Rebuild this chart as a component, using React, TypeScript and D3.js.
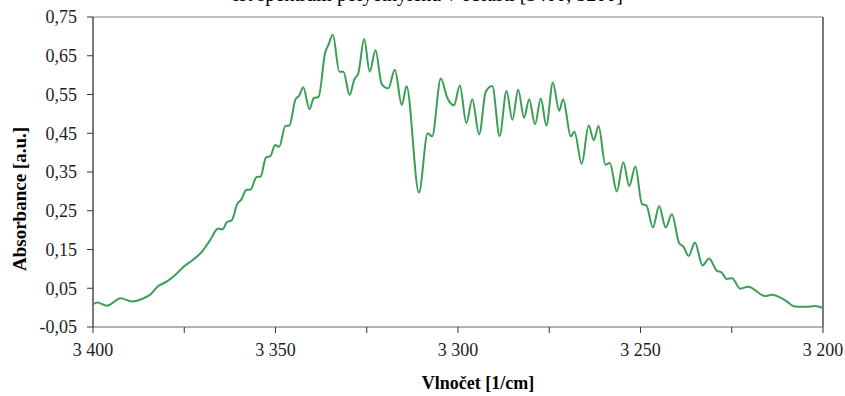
import React, { useEffect } from "react";
import * as d3 from "d3";

const wavenumbers = [
  3399.9, 3398.8, 3396.2, 3392.4, 3389.4, 3386.2, 3384.4, 3382.1, 3379.8, 3377.5,
  3375.1, 3372.5, 3370.2, 3368.0, 3365.7, 3364.5, 3363.3, 3362.0, 3360.5, 3359.3,
  3358.0, 3356.8, 3355.2, 3354.1, 3352.6, 3351.4, 3350.1, 3349.0, 3347.3, 3346.2,
  3344.5, 3343.5, 3342.4, 3340.7, 3339.5, 3338.2, 3336.4, 3335.5, 3334.3, 3332.5,
  3331.4, 3329.7, 3328.4, 3327.3, 3325.7, 3324.2, 3322.6, 3320.9, 3319.1, 3317.3,
  3315.4, 3314.1, 3310.7, 3308.3, 3307.1, 3304.7, 3303.0, 3301.1, 3299.5, 3297.7,
  3296.1, 3294.2, 3292.4, 3290.6, 3288.6, 3286.7, 3285.1, 3283.5, 3281.9, 3280.5,
  3278.9, 3277.3, 3275.8, 3274.0, 3272.3, 3271.2, 3269.1, 3268.1, 3266.1, 3264.2,
  3262.8, 3261.5, 3259.6, 3258.4, 3256.5, 3254.7, 3253.1, 3251.4, 3249.6, 3248.4,
  3246.6, 3244.9, 3243.1, 3241.4, 3239.4, 3238.3, 3236.8, 3235.1, 3233.0, 3231.2,
  3229.1, 3227.8, 3226.4, 3224.9, 3222.7, 3220.5, 3215.9, 3214.1, 3210.4, 3207.7,
  3204.5, 3202.2, 3200.0,
];

const absorbance = [
  0.009, 0.013, 0.005, 0.024, 0.016, 0.024, 0.033, 0.056, 0.067, 0.084,
  0.106, 0.124, 0.144, 0.173, 0.204, 0.202, 0.221, 0.225, 0.267, 0.280,
  0.304, 0.305, 0.337, 0.338, 0.388, 0.391, 0.420, 0.415, 0.469, 0.470,
  0.538, 0.547, 0.569, 0.512, 0.541, 0.544, 0.658, 0.678, 0.704, 0.609,
  0.609, 0.549, 0.589, 0.605, 0.693, 0.609, 0.664, 0.577, 0.566, 0.614,
  0.523, 0.571, 0.297, 0.450, 0.442, 0.591, 0.543, 0.522, 0.573, 0.476,
  0.538, 0.447, 0.557, 0.572, 0.443, 0.559, 0.485, 0.562, 0.490, 0.538,
  0.473, 0.540, 0.470, 0.581, 0.508, 0.538, 0.442, 0.454, 0.371, 0.470,
  0.432, 0.469, 0.369, 0.373, 0.300, 0.375, 0.314, 0.364, 0.267, 0.264,
  0.207, 0.262, 0.207, 0.241, 0.166, 0.158, 0.133, 0.168, 0.109, 0.127,
  0.095, 0.091, 0.074, 0.076, 0.049, 0.054, 0.030, 0.033, 0.019, 0.003,
  0.002, 0.004, -0.001,
];

const yTicks = [-0.05, 0.05, 0.15, 0.25, 0.35, 0.45, 0.55, 0.65, 0.75];
const xTicks = [3400, 3375, 3350, 3325, 3300, 3275, 3250, 3225, 3200];
const xLabelTicks = [3400, 3350, 3300, 3250, 3200];

const titleText = "IR spektrum polyethylenu v oblasti [3400, 3200]";
const xTitle = "Vlnočet [1/cm]";
const yTitle = "Absorbance [a.u.]";

const W = 845;
const H = 396;
const M = { left: 93, right: 22, top: 17, bottom: 69 };

export default function App() {
  useEffect(() => {
    document.body.style.margin = "0";
  }, []);

  const x = d3.scaleLinear().domain([3400, 3200]).range([M.left, W - M.right]);
  const y = d3.scaleLinear().domain([-0.05, 0.75]).range([H - M.bottom, M.top]);

  const data = wavenumbers.map((w, i) => [w, absorbance[i]] as [number, number]);
  const line = d3
    .line<[number, number]>()
    .x((d) => x(d[0]))
    .y((d) => y(d[1]))
    .curve(d3.curveMonotoneX);

  const fmtY = (v: number) => v.toFixed(2).replace(".", ",");
  const fmtX = (v: number) => {
    const s = String(v);
    return s.slice(0, s.length - 3) + " " + s.slice(s.length - 3);
  };

  const font = "'Liberation Serif', 'Times New Roman', serif";
  const x0 = x(3400);
  const x1 = x(3200);
  const yTop = y(0.75);
  const yBot = y(-0.05);

  return (
    <svg width={W} height={H} style={{ display: "block", background: "#fff" }} fontFamily={font}>
      <text x={623} y={1} fontSize={20} textAnchor="end" fill="#000">
        {titleText}
      </text>
      {/* frame */}
      <line x1={x0} x2={x1} y1={yTop} y2={yTop} stroke="#808080" strokeWidth={1.2} />
      <line x1={x1} x2={x1} y1={yTop} y2={yBot} stroke="#222" strokeWidth={1.2} />
      {/* y axis */}
      <line x1={x0} x2={x0} y1={yTop} y2={yBot} stroke="#222" strokeWidth={1.2} />
      {yTicks.map((t) => (
        <g key={"y" + t}>
          <line x1={x0 - 6} x2={x0} y1={y(t)} y2={y(t)} stroke="#333" strokeWidth={1} />
          <text x={77} y={y(t)} dy="0.35em" fontSize={18} textAnchor="end" fill="#222">
            {fmtY(t)}
          </text>
        </g>
      ))}
      {/* x axis */}
      <line x1={x0} x2={x1} y1={yBot} y2={yBot} stroke="#666" strokeWidth={1.2} />
      {xTicks.map((t) => (
        <line key={"xt" + t} x1={x(t)} x2={x(t)} y1={yBot} y2={yBot + 6} stroke="#333" strokeWidth={1} />
      ))}
      {xLabelTicks.map((t) => (
        <text key={"xl" + t} x={x(t)} y={356} fontSize={18} textAnchor="middle" fill="#222">
          {fmtX(t)}
        </text>
      ))}
      <path d={line(data) || ""} fill="none" stroke="#3a9f56" strokeWidth={2} strokeLinejoin="round" />
      <text x={478} y={389} fontSize={18} fontWeight="bold" textAnchor="middle" fill="#000">
        {xTitle}
      </text>
      <text
        transform={`translate(26, ${(yTop + yBot) / 2 + 27}) rotate(-90)`}
        fontSize={19}
        fontWeight="bold"
        textAnchor="middle"
        fill="#000"
      >
        {yTitle}
      </text>
    </svg>
  );
}
